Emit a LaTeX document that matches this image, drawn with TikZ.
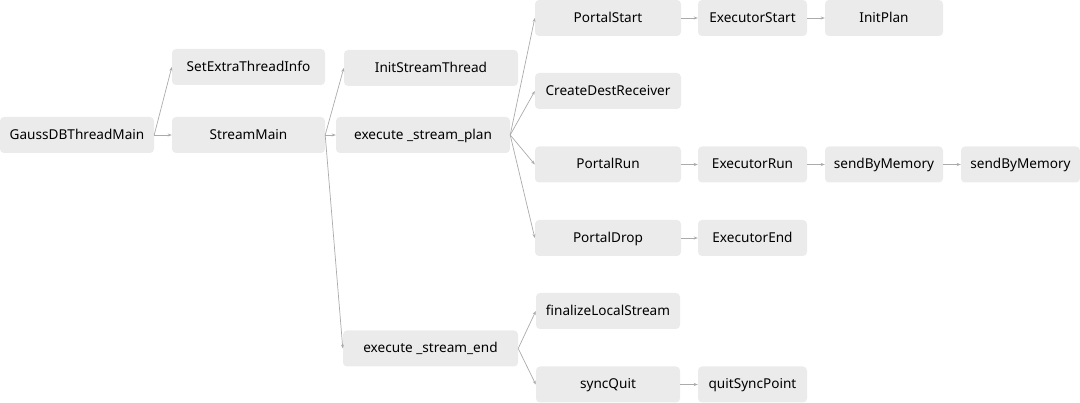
\documentclass[tikz,border=0pt]{standalone}
\usepackage{fontspec}
\setmainfont{Noto Sans}
\usetikzlibrary{arrows.meta}
\definecolor{boxgray}{HTML}{EBEBEB}
\definecolor{linegray}{HTML}{ABABAB}

\begin{document}
\begin{tikzpicture}[x=1pt, y=-1pt,
    func/.style={fill=boxgray, rounded corners=4pt, minimum height=36pt, inner sep=0pt, text height=9.5pt, text depth=0.5pt, font=\fontsize{13.6}{15}\selectfont},
    call/.style={-{Stealth[length=4pt, width=3pt]}, linegray, line width=0.7pt}]

    \useasboundingbox (0,0) rectangle (1080,403);

    % Thread entry and stream main
    \node[func, minimum width=154pt] (gauss) at (77,135) {GaussDBThreadMain};
    \node[func, minimum width=153pt] (extra) at (248.5,67) {SetExtraThreadInfo};
    \node[func, minimum width=153pt] (stream) at (248.5,135) {StreamMain};
    \node[func, minimum width=174pt] (init) at (431,68) {InitStreamThread};
    \node[func, minimum width=174pt] (plan) at (423,135) {execute \_stream\_plan};
    \node[func, minimum width=175pt] (fin) at (430.5,348.5) {execute \_stream\_end};

    % Portal calls
    \node[func, minimum width=146pt] (pstart) at (608,18) {PortalStart};
    \node[func, minimum width=146pt] (dest) at (608,91) {CreateDestReceiver};
    \node[func, minimum width=146pt] (prun) at (608,164.5) {PortalRun};
    \node[func, minimum width=146pt] (pdrop) at (608,238) {PortalDrop};

    % Executor calls
    \node[func, minimum width=109pt] (estart) at (752.5,18) {ExecutorStart};
    \node[func, minimum width=118pt] (iplan) at (884,18) {InitPlan};
    \node[func, minimum width=109pt] (erun) at (752.5,164.5) {ExecutorRun};
    \node[func, minimum width=118pt] (send1) at (884,164.5) {sendByMemory};
    \node[func, minimum width=119pt] (send2) at (1020.5,164.5) {sendByMemory};
    \node[func, minimum width=109pt] (eend) at (752.5,238) {ExecutorEnd};

    % Stream end calls
    \node[func, minimum width=144pt] (local) at (608,311) {finalizeLocalStream};
    \node[func, minimum width=144pt] (quit) at (608,384.5) {syncQuit};
    \node[func, minimum width=109pt] (qpoint) at (752.5,384.5) {quitSyncPoint};

    % Arrows
    \draw[call] (gauss.east) -- (extra.west);
    \draw[call] (gauss.east) -- (stream.west);
    \draw[call] (stream.east) -- (init.west);
    \draw[call] (stream.east) -- (plan.west);
    \draw[call] (stream.east) -- (fin.west);
    \draw[call] (plan.east) -- (pstart.west);
    \draw[call] (plan.east) -- (dest.west);
    \draw[call] (plan.east) -- (prun.west);
    \draw[call] (plan.east) -- (pdrop.west);
    \draw[call] (pstart) -- (estart);
    \draw[call] (estart) -- (iplan);
    \draw[call] (prun) -- (erun);
    \draw[call] (erun) -- (send1);
    \draw[call] (send1) -- (send2);
    \draw[call] (pdrop) -- (eend);
    \draw[call] (fin.east) -- (local.west);
    \draw[call] (fin.east) -- (quit.west);
    \draw[call] (quit) -- (qpoint);
\end{tikzpicture}
\end{document}
